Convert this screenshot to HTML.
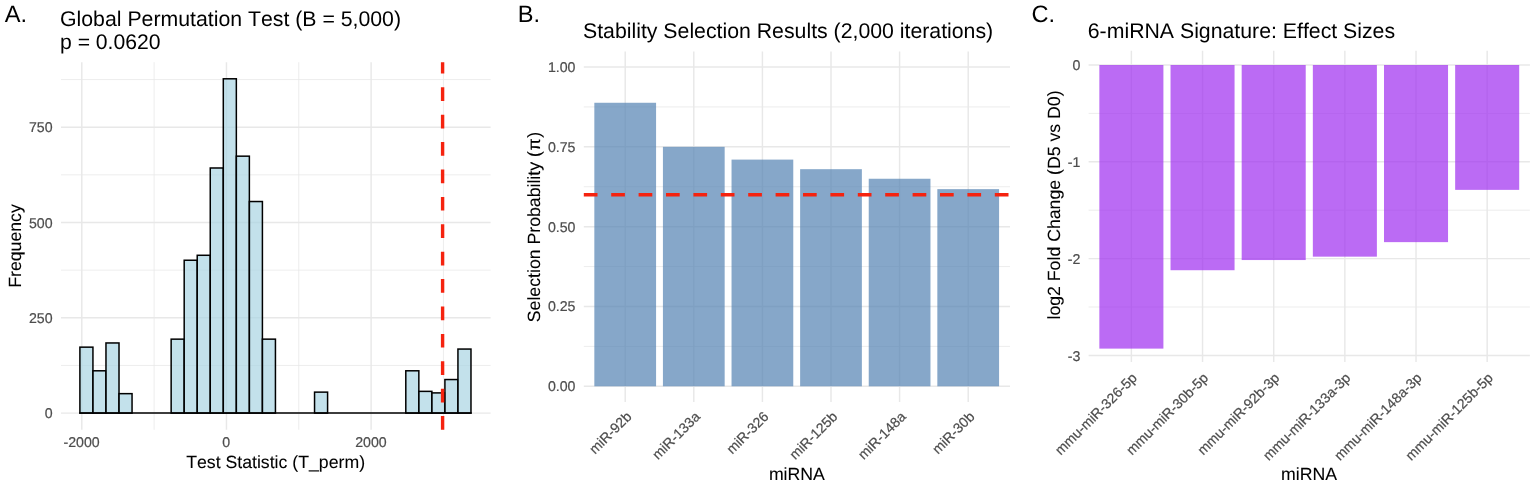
<!DOCTYPE html>
<html lang="en">
<head>
<meta charset="utf-8">
<title>Figure</title>
<style>
html,body{margin:0;padding:0;background:#fff;}
body{width:1535px;height:485px;overflow:hidden;}
svg{display:block;font-family:"Liberation Sans", sans-serif;font-kerning:none;font-variant-ligatures:none;text-rendering:geometricPrecision;}
</style>
</head>
<body>
<svg width="1535" height="485" viewBox="0 0 1535 485">
<rect width="1535" height="485" fill="#fff"/>
<text x="4.8" y="22.3" font-size="23.6" fill="#000" text-anchor="start">A.</text>
<text x="60" y="25.7" font-size="21.27" fill="#000" text-anchor="start">Global Permutation Test (B = 5,000)</text>
<text x="60" y="48.8" font-size="21.15" fill="#000" text-anchor="start">p = 0.0620</text>
<line x1="61.0" x2="490.6" y1="365.45" y2="365.45" stroke="#e8e8e8" stroke-width="0.8"/>
<line x1="61.0" x2="490.6" y1="270.15" y2="270.15" stroke="#e8e8e8" stroke-width="0.8"/>
<line x1="61.0" x2="490.6" y1="174.85" y2="174.85" stroke="#e8e8e8" stroke-width="0.8"/>
<line x1="61.0" x2="490.6" y1="79.55" y2="79.55" stroke="#e8e8e8" stroke-width="0.8"/>
<line x1="154.12" x2="154.12" y1="62.2" y2="429.8" stroke="#e8e8e8" stroke-width="0.8"/>
<line x1="298.78" x2="298.78" y1="62.2" y2="429.8" stroke="#e8e8e8" stroke-width="0.8"/>
<line x1="443.44" x2="443.44" y1="62.2" y2="429.8" stroke="#e8e8e8" stroke-width="0.8"/>
<line x1="61.0" x2="490.6" y1="413.1" y2="413.1" stroke="#e8e8e8" stroke-width="1.45"/>
<line x1="61.0" x2="490.6" y1="317.8" y2="317.8" stroke="#e8e8e8" stroke-width="1.45"/>
<line x1="61.0" x2="490.6" y1="222.5" y2="222.5" stroke="#e8e8e8" stroke-width="1.45"/>
<line x1="61.0" x2="490.6" y1="127.2" y2="127.2" stroke="#e8e8e8" stroke-width="1.45"/>
<line x1="81.79" x2="81.79" y1="62.2" y2="429.8" stroke="#e8e8e8" stroke-width="1.45"/>
<line x1="226.45" x2="226.45" y1="62.2" y2="429.8" stroke="#e8e8e8" stroke-width="1.45"/>
<line x1="371.11" x2="371.11" y1="62.2" y2="429.8" stroke="#e8e8e8" stroke-width="1.45"/>
<g fill="#a9d4e3" fill-opacity="0.7" stroke="#000" stroke-width="1.5" stroke-linejoin="miter">
<rect x="79.90" y="347.15" width="13.04" height="65.95"/>
<rect x="92.94" y="370.79" width="13.04" height="42.31"/>
<rect x="105.97" y="342.96" width="13.04" height="70.14"/>
<rect x="119.01" y="393.66" width="13.04" height="19.44"/>
<rect x="132.04" y="413.10" width="13.04" height="0.00"/>
<rect x="145.08" y="413.10" width="13.04" height="0.00"/>
<rect x="158.12" y="413.10" width="13.04" height="0.00"/>
<rect x="171.15" y="339.15" width="13.04" height="73.95"/>
<rect x="184.19" y="260.24" width="13.04" height="152.86"/>
<rect x="197.22" y="255.28" width="13.04" height="157.82"/>
<rect x="210.26" y="167.99" width="13.04" height="245.11"/>
<rect x="223.30" y="78.79" width="13.04" height="334.31"/>
<rect x="236.33" y="156.17" width="13.04" height="256.93"/>
<rect x="249.37" y="201.53" width="13.04" height="211.57"/>
<rect x="262.40" y="339.15" width="13.04" height="73.95"/>
<rect x="275.44" y="413.10" width="13.04" height="0.00"/>
<rect x="288.48" y="413.10" width="13.04" height="0.00"/>
<rect x="301.51" y="413.10" width="13.04" height="0.00"/>
<rect x="314.55" y="392.13" width="13.04" height="20.97"/>
<rect x="327.58" y="413.10" width="13.04" height="0.00"/>
<rect x="340.62" y="413.10" width="13.04" height="0.00"/>
<rect x="353.66" y="413.10" width="13.04" height="0.00"/>
<rect x="366.69" y="413.10" width="13.04" height="0.00"/>
<rect x="379.73" y="413.10" width="13.04" height="0.00"/>
<rect x="392.76" y="413.10" width="13.04" height="0.00"/>
<rect x="405.80" y="370.79" width="13.04" height="42.31"/>
<rect x="418.84" y="391.37" width="13.04" height="21.73"/>
<rect x="431.87" y="392.90" width="13.04" height="20.20"/>
<rect x="444.91" y="379.55" width="13.04" height="33.55"/>
<rect x="457.94" y="349.06" width="13.04" height="64.04"/>
<line x1="79.15" x2="471.73" y1="413.10" y2="413.10"/>
</g>
<line x1="442.6" x2="442.6" y1="429.8" y2="62.2" stroke="#f5230f" stroke-width="3.4" stroke-dasharray="13.7 13.7"/>
<text x="52.6" y="418.2" font-size="14.16" fill="#4d4d4d" stroke="#4d4d4d" stroke-width="0.214" text-anchor="end">0</text>
<text x="52.6" y="322.9" font-size="14.16" fill="#4d4d4d" stroke="#4d4d4d" stroke-width="0.214" text-anchor="end">250</text>
<text x="52.6" y="227.6" font-size="14.16" fill="#4d4d4d" stroke="#4d4d4d" stroke-width="0.214" text-anchor="end">500</text>
<text x="52.6" y="132.3" font-size="14.16" fill="#4d4d4d" stroke="#4d4d4d" stroke-width="0.214" text-anchor="end">750</text>
<text x="81.59" y="447" font-size="14.16" fill="#4d4d4d" stroke="#4d4d4d" stroke-width="0.214" text-anchor="middle">-2000</text>
<text x="226.25" y="447" font-size="14.16" fill="#4d4d4d" stroke="#4d4d4d" stroke-width="0.214" text-anchor="middle">0</text>
<text x="370.91" y="447" font-size="14.16" fill="#4d4d4d" stroke="#4d4d4d" stroke-width="0.214" text-anchor="middle">2000</text>
<text x="275.6" y="468.1" font-size="17.7" fill="#000" stroke="#000" stroke-width="0.072" text-anchor="middle">Test Statistic (T_perm)</text>
<text x="21" y="246.0" font-size="17.7" fill="#000" stroke="#000" stroke-width="0.072" text-anchor="middle" transform="rotate(-90 21 246.0)">Frequency</text>
<text x="517.8" y="22.3" font-size="23.6" fill="#000" text-anchor="start">B.</text>
<text x="583" y="38" font-size="21.27" fill="#000" text-anchor="start">Stability Selection Results (2,000 iterations)</text>
<line x1="583.8" x2="1010.0" y1="346.39" y2="346.39" stroke="#e8e8e8" stroke-width="0.8"/>
<line x1="583.8" x2="1010.0" y1="266.56" y2="266.56" stroke="#e8e8e8" stroke-width="0.8"/>
<line x1="583.8" x2="1010.0" y1="186.74" y2="186.74" stroke="#e8e8e8" stroke-width="0.8"/>
<line x1="583.8" x2="1010.0" y1="106.91" y2="106.91" stroke="#e8e8e8" stroke-width="0.8"/>
<line x1="583.8" x2="1010.0" y1="386.3" y2="386.3" stroke="#e8e8e8" stroke-width="1.45"/>
<line x1="583.8" x2="1010.0" y1="306.48" y2="306.48" stroke="#e8e8e8" stroke-width="1.45"/>
<line x1="583.8" x2="1010.0" y1="226.65" y2="226.65" stroke="#e8e8e8" stroke-width="1.45"/>
<line x1="583.8" x2="1010.0" y1="146.82" y2="146.82" stroke="#e8e8e8" stroke-width="1.45"/>
<line x1="583.8" x2="1010.0" y1="67.0" y2="67.0" stroke="#e8e8e8" stroke-width="1.45"/>
<line x1="625.2" x2="625.2" y1="51.4" y2="402.0" stroke="#e8e8e8" stroke-width="1.45"/>
<line x1="693.8" x2="693.8" y1="51.4" y2="402.0" stroke="#e8e8e8" stroke-width="1.45"/>
<line x1="762.4" x2="762.4" y1="51.4" y2="402.0" stroke="#e8e8e8" stroke-width="1.45"/>
<line x1="831.0" x2="831.0" y1="51.4" y2="402.0" stroke="#e8e8e8" stroke-width="1.45"/>
<line x1="899.6" x2="899.6" y1="51.4" y2="402.0" stroke="#e8e8e8" stroke-width="1.45"/>
<line x1="968.2" x2="968.2" y1="51.4" y2="402.0" stroke="#e8e8e8" stroke-width="1.45"/>
<g fill="#5281b2" fill-opacity="0.7">
<rect x="594.33" y="102.76" width="61.74" height="283.54"/>
<rect x="662.93" y="146.82" width="61.74" height="239.48"/>
<rect x="731.53" y="159.60" width="61.74" height="226.70"/>
<rect x="800.13" y="169.18" width="61.74" height="217.12"/>
<rect x="868.73" y="178.75" width="61.74" height="207.55"/>
<rect x="937.33" y="189.13" width="61.74" height="197.17"/>
</g>
<line x1="583.8" x2="1010.0" y1="194.72" y2="194.72" stroke="#f5230f" stroke-width="3.4" stroke-dasharray="13.7 13.7"/>
<text x="575.5" y="391.3" font-size="14.16" fill="#4d4d4d" stroke="#4d4d4d" stroke-width="0.214" text-anchor="end">0.00</text>
<text x="575.5" y="311.48" font-size="14.16" fill="#4d4d4d" stroke="#4d4d4d" stroke-width="0.214" text-anchor="end">0.25</text>
<text x="575.5" y="231.65" font-size="14.16" fill="#4d4d4d" stroke="#4d4d4d" stroke-width="0.214" text-anchor="end">0.50</text>
<text x="575.5" y="151.82" font-size="14.16" fill="#4d4d4d" stroke="#4d4d4d" stroke-width="0.214" text-anchor="end">0.75</text>
<text x="575.5" y="72.0" font-size="14.16" fill="#4d4d4d" stroke="#4d4d4d" stroke-width="0.214" text-anchor="end">1.00</text>
<text x="632.4" y="417.4" font-size="14.0" fill="#4d4d4d" stroke="#4d4d4d" stroke-width="0.22" text-anchor="end" transform="rotate(-45 632.4 417.4)">miR-92b</text>
<text x="701.0" y="417.4" font-size="14.0" fill="#4d4d4d" stroke="#4d4d4d" stroke-width="0.22" text-anchor="end" transform="rotate(-45 701.0 417.4)">miR-133a</text>
<text x="769.6" y="417.4" font-size="14.0" fill="#4d4d4d" stroke="#4d4d4d" stroke-width="0.22" text-anchor="end" transform="rotate(-45 769.6 417.4)">miR-326</text>
<text x="838.2" y="417.4" font-size="14.0" fill="#4d4d4d" stroke="#4d4d4d" stroke-width="0.22" text-anchor="end" transform="rotate(-45 838.2 417.4)">miR-125b</text>
<text x="906.8" y="417.4" font-size="14.0" fill="#4d4d4d" stroke="#4d4d4d" stroke-width="0.22" text-anchor="end" transform="rotate(-45 906.8 417.4)">miR-148a</text>
<text x="975.4" y="417.4" font-size="14.0" fill="#4d4d4d" stroke="#4d4d4d" stroke-width="0.22" text-anchor="end" transform="rotate(-45 975.4 417.4)">miR-30b</text>
<text x="796.9" y="479.9" font-size="17.7" fill="#000" stroke="#000" stroke-width="0.072" text-anchor="middle">miRNA</text>
<text x="540.4" y="227.0" font-size="17.7" fill="#000" stroke="#000" stroke-width="0.072" text-anchor="middle" transform="rotate(-90 540.4 227.0)">Selection Probability (<tspan dx="0.6">π</tspan><tspan dx="0.6">)</tspan></text>
<text x="1031.4" y="22.3" font-size="23.6" fill="#000" text-anchor="start">C.</text>
<text x="1087.8" y="38" font-size="21.27" fill="#000" text-anchor="start">6-miRNA Signature: Effect Sizes</text>
<line x1="1088.6" x2="1529.9" y1="113.4" y2="113.4" stroke="#e8e8e8" stroke-width="0.8"/>
<line x1="1088.6" x2="1529.9" y1="210.2" y2="210.2" stroke="#e8e8e8" stroke-width="0.8"/>
<line x1="1088.6" x2="1529.9" y1="307.0" y2="307.0" stroke="#e8e8e8" stroke-width="0.8"/>
<line x1="1088.6" x2="1529.9" y1="65.0" y2="65.0" stroke="#e8e8e8" stroke-width="1.45"/>
<line x1="1088.6" x2="1529.9" y1="161.8" y2="161.8" stroke="#e8e8e8" stroke-width="1.45"/>
<line x1="1088.6" x2="1529.9" y1="258.6" y2="258.6" stroke="#e8e8e8" stroke-width="1.45"/>
<line x1="1088.6" x2="1529.9" y1="355.4" y2="355.4" stroke="#e8e8e8" stroke-width="1.45"/>
<line x1="1131.38" x2="1131.38" y1="50.8" y2="362.0" stroke="#e8e8e8" stroke-width="1.45"/>
<line x1="1202.54" x2="1202.54" y1="50.8" y2="362.0" stroke="#e8e8e8" stroke-width="1.45"/>
<line x1="1273.7" x2="1273.7" y1="50.8" y2="362.0" stroke="#e8e8e8" stroke-width="1.45"/>
<line x1="1344.86" x2="1344.86" y1="50.8" y2="362.0" stroke="#e8e8e8" stroke-width="1.45"/>
<line x1="1416.02" x2="1416.02" y1="50.8" y2="362.0" stroke="#e8e8e8" stroke-width="1.45"/>
<line x1="1487.18" x2="1487.18" y1="50.8" y2="362.0" stroke="#e8e8e8" stroke-width="1.45"/>
<g fill="#9e2cef" fill-opacity="0.7">
<rect x="1099.36" y="65.00" width="64.04" height="283.62"/>
<rect x="1170.52" y="65.00" width="64.04" height="205.22"/>
<rect x="1241.68" y="65.00" width="64.04" height="195.05"/>
<rect x="1312.84" y="65.00" width="64.04" height="191.66"/>
<rect x="1384.00" y="65.00" width="64.04" height="177.14"/>
<rect x="1455.16" y="65.00" width="64.04" height="124.87"/>
</g>
<text x="1080.3" y="70.2" font-size="14.16" fill="#4d4d4d" stroke="#4d4d4d" stroke-width="0.214" text-anchor="end">0</text>
<text x="1080.3" y="167.0" font-size="14.16" fill="#4d4d4d" stroke="#4d4d4d" stroke-width="0.214" text-anchor="end">-1</text>
<text x="1080.3" y="263.8" font-size="14.16" fill="#4d4d4d" stroke="#4d4d4d" stroke-width="0.214" text-anchor="end">-2</text>
<text x="1080.3" y="360.6" font-size="14.16" fill="#4d4d4d" stroke="#4d4d4d" stroke-width="0.214" text-anchor="end">-3</text>
<text x="1137.88" y="378.8" font-size="14.0" fill="#4d4d4d" stroke="#4d4d4d" stroke-width="0.22" text-anchor="end" transform="rotate(-45 1137.88 378.8)">mmu-miR-326-5p</text>
<text x="1209.04" y="378.8" font-size="14.0" fill="#4d4d4d" stroke="#4d4d4d" stroke-width="0.22" text-anchor="end" transform="rotate(-45 1209.04 378.8)">mmu-miR-30b-5p</text>
<text x="1280.2" y="378.8" font-size="14.0" fill="#4d4d4d" stroke="#4d4d4d" stroke-width="0.22" text-anchor="end" transform="rotate(-45 1280.2 378.8)">mmu-miR-92b-3p</text>
<text x="1351.36" y="378.8" font-size="14.0" fill="#4d4d4d" stroke="#4d4d4d" stroke-width="0.22" text-anchor="end" transform="rotate(-45 1351.36 378.8)">mmu-miR-133a-3p</text>
<text x="1422.52" y="378.8" font-size="14.0" fill="#4d4d4d" stroke="#4d4d4d" stroke-width="0.22" text-anchor="end" transform="rotate(-45 1422.52 378.8)">mmu-miR-148a-3p</text>
<text x="1493.68" y="378.8" font-size="14.0" fill="#4d4d4d" stroke="#4d4d4d" stroke-width="0.22" text-anchor="end" transform="rotate(-45 1493.68 378.8)">mmu-miR-125b-5p</text>
<text x="1309.0" y="479.9" font-size="17.7" fill="#000" stroke="#000" stroke-width="0.072" text-anchor="middle">miRNA</text>
<text x="1060.3" y="205.0" font-size="17.7" fill="#000" stroke="#000" stroke-width="0.072" text-anchor="middle" transform="rotate(-90 1060.3 205.0)">log2 Fold Change (D5 vs D0)</text>
</svg>
</body>
</html>
